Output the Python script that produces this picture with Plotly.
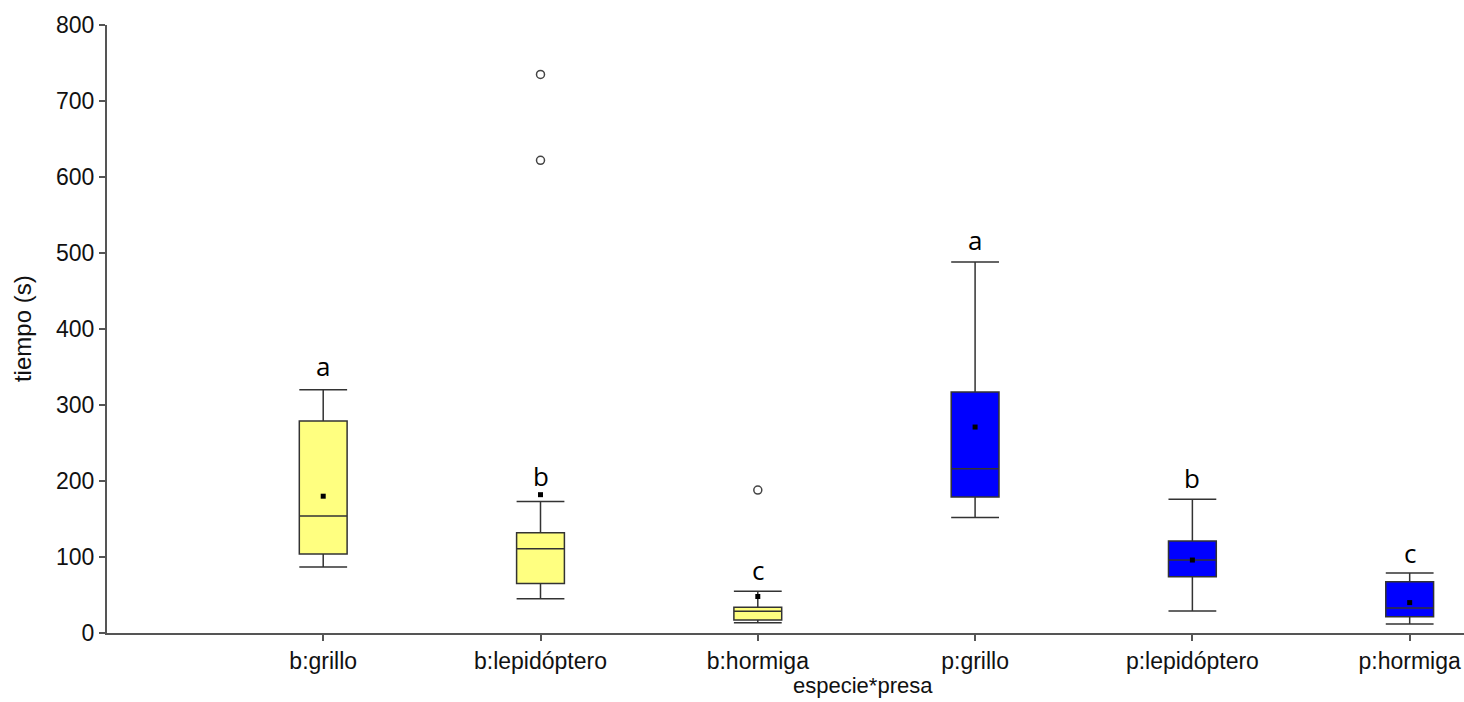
import plotly.graph_objects as go

categories = ["b:grillo", "b:lepidóptero", "b:hormiga", "p:grillo", "p:lepidóptero", "p:hormiga"]
lower = [87, 45, 13.5, 152, 29, 12]
q1 = [104, 65, 17, 179, 74, 21.5]
median = [154, 111, 28.5, 216, 96, 33]
q3 = [279, 132, 34, 317, 121, 67.5]
upper = [320, 173, 55, 488, 176, 79]
means = [180, 182, 48, 271, 96, 40]
outlier_cats = ["b:lepidóptero", "b:lepidóptero", "b:hormiga"]
outlier_vals = [735, 622, 188]
letters = ["a", "b", "c", "a", "b", "c"]
letter_y = [351, 206, 83, 517, 204, 105]

groups = {"b": "#FFFF80", "p": "#0000FF"}

fig = go.Figure()
for prefix, color in groups.items():
    idx = [i for i, c in enumerate(categories) if c.startswith(prefix + ":")]
    fig.add_trace(go.Box(
        x=[categories[i] for i in idx],
        q1=[q1[i] for i in idx],
        median=[median[i] for i in idx],
        q3=[q3[i] for i in idx],
        lowerfence=[lower[i] for i in idx],
        upperfence=[upper[i] for i in idx],
        fillcolor=color,
        line=dict(color="#333333", width=1.5),
        whiskerwidth=1,
        width=0.22,
        boxpoints=False,
        showlegend=False,
        hoverinfo="skip",
    ))

fig.add_trace(go.Scatter(
    x=categories, y=means, mode="markers",
    marker=dict(symbol="square", size=5, color="black"),
    showlegend=False, hoverinfo="skip",
))
fig.add_trace(go.Scatter(
    x=outlier_cats, y=outlier_vals, mode="markers",
    marker=dict(symbol="circle-open", size=8, color="#444444", line=dict(width=1.5)),
    showlegend=False, hoverinfo="skip",
))

for c, t, yv in zip(categories, letters, letter_y):
    fig.add_annotation(x=c, y=yv, text=t, showarrow=False,
                       font=dict(family="Open Sans", size=26, color="black"),
                       xanchor="center", yanchor="middle")

fig.add_annotation(xref="paper", yref="paper", x=-0.0626, y=0.5, text="tiempo (s)",
                   textangle=-90, showarrow=False, xanchor="center", yanchor="middle",
                   font=dict(family="Liberation Sans", size=24, color="#111111"))
fig.add_annotation(xref="paper", yref="paper", x=0.557, y=-0.087, text="especie*presa",
                   showarrow=False, xanchor="center", yanchor="middle",
                   font=dict(family="Liberation Sans", size=22, color="#111111"))

fig.update_layout(
    width=1464, height=702,
    margin=dict(l=107, r=0, t=25, b=69),
    plot_bgcolor="white", paper_bgcolor="white",
    boxmode="overlay",
    font=dict(family="Liberation Sans", size=22, color="#111111"),
)
fig.update_xaxes(
    type="category", categoryorder="array", categoryarray=categories,
    range=[-0.995, 5.25],
    showline=True, linecolor="#555555", linewidth=2,
    ticks="outside", ticklen=6, tickcolor="#555555", tickwidth=1.5,
    showgrid=False, zeroline=False,
    tickfont=dict(family="Liberation Sans", size=23, color="#111111"),
)
fig.update_yaxes(
    range=[0, 800], tickvals=[0, 100, 200, 300, 400, 500, 600, 700, 800],
    showline=True, linecolor="#555555", linewidth=2,
    ticks="outside", ticklen=6, tickcolor="#555555", tickwidth=1.5,
    showgrid=False, zeroline=False,
    tickfont=dict(family="Liberation Sans", size=23, color="#111111"),
)

fig.write_html("out.html")
